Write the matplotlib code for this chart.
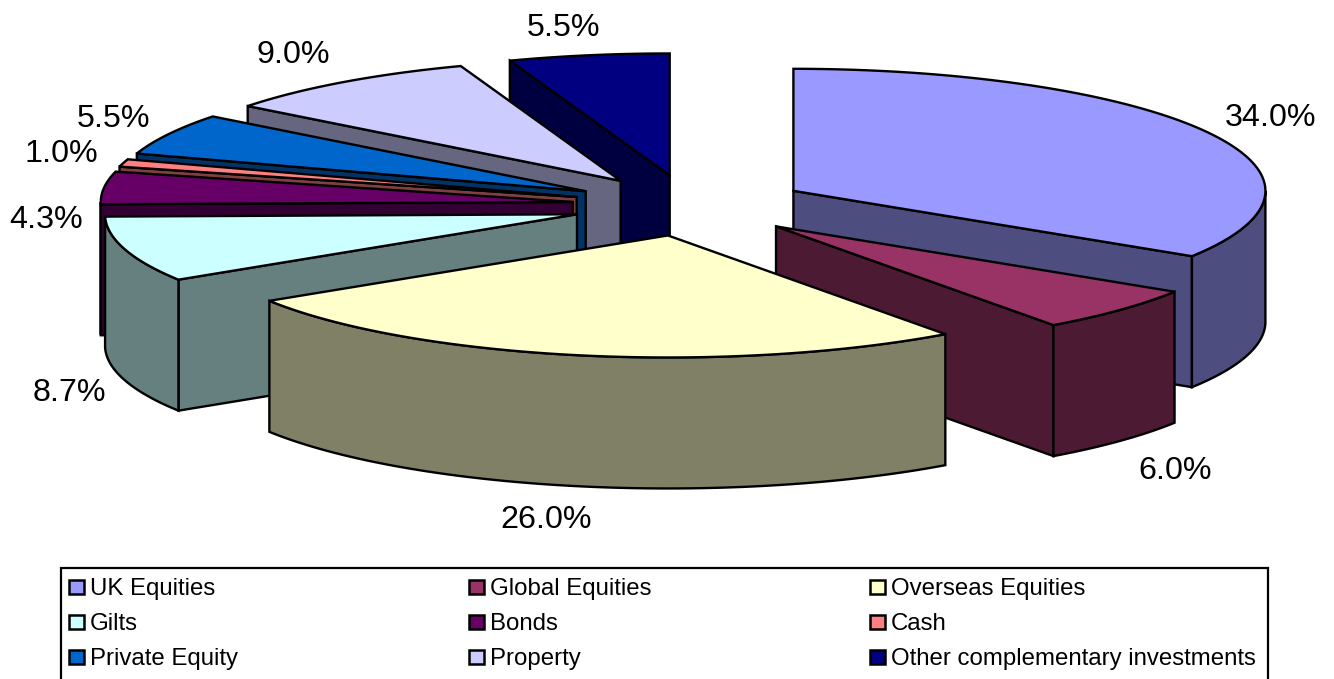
import numpy as np
import matplotlib
matplotlib.use("Agg")
import matplotlib.pyplot as plt
from matplotlib.patches import Polygon, Rectangle

plt.rcParams['font.family'] = ['Liberation Sans', 'DejaVu Sans']

categories = ["UK Equities", "Global Equities", "Overseas Equities", "Gilts", "Bonds",
              "Cash", "Private Equity", "Property", "Other complementary investments"]
values = [34.0, 6.0, 26.0, 8.7, 4.3, 1.0, 5.5, 9.0, 5.5]
top_colors = ["#9999FF", "#993366", "#FFFFCC", "#CCFFFF", "#660066",
              "#FF8080", "#0066CC", "#CCCCFF", "#000080"]
side_colors = ["#4D4D80", "#4D1A33", "#808066", "#668080", "#330033",
               "#804040", "#003366", "#666680", "#000040"]

# geometry of the projected pie, in pixels
CX, CY, RX, RY, DEPTH, EXPLODE = 690.0, 205.5, 472.0, 122.0, 131.0, 0.25
LW = 1.7
label_xy = [(1271, 118), (1175, 471), (546, 520), (69, 393), (46, 220),
            (61, 154), (114, 119), (293, 55), (564, 28)]
draw_order = [8, 7, 6, 5, 4, 3, 0, 1, 2]

W, H = 1334, 679
fig = plt.figure(figsize=(W / 100, H / 100), dpi=100, facecolor="white")
ax = fig.add_axes([0, 0, 1, 1])
ax.set_xlim(0, W)
ax.set_ylim(H, 0)
ax.axis("off")

edges = np.concatenate([[0], np.cumsum(values)]) / sum(values) * 2 * np.pi


def pt(ax_, ay_, t):
    return np.column_stack([ax_ + RX * np.sin(t), ay_ - RY * np.cos(t)])


def poly(xy, fc, z):
    ax.add_patch(Polygon(xy, closed=True, facecolor=fc, edgecolor="black",
                         linewidth=LW, joinstyle="miter", zorder=z))


z = 1
for i in draw_order:
    a0, a1 = edges[i], edges[i + 1]
    mid = (a0 + a1) / 2
    ox = CX + EXPLODE * RX * np.sin(mid)
    oy = CY - EXPLODE * RY * np.cos(mid)
    apex = np.array([[ox, oy]])
    down = np.array([0, DEPTH])

    # cut faces that look towards the viewer
    for ang, visible in ((a0, np.sin(a0) < -1e-6), (a1, np.sin(a1) > 1e-6)):
        if visible:
            e = pt(ox, oy, np.array([ang]))
            poly(np.vstack([apex, e, e + down, apex + down]), side_colors[i], z)
            z += 1

    # outer rim, front half only
    r0, r1 = max(a0, np.pi / 2), min(a1, 3 * np.pi / 2)
    if r1 > r0:
        arc = pt(ox, oy, np.linspace(r0, r1, 200))
        poly(np.vstack([arc, (arc + down)[::-1]]), side_colors[i], z)
        z += 1

    # top face
    arc = pt(ox, oy, np.linspace(a0, a1, 300))
    poly(np.vstack([apex, arc]), top_colors[i], z)
    z += 1

for v, (x, y) in zip(values, label_xy):
    ax.text(x, y, f"{v:.1f}%", fontsize=23.2, ha="center", va="center",
            color="black", zorder=z)

# legend
ax.add_patch(Rectangle((61, 568), 1207, 120, facecolor="white", edgecolor="black",
                       linewidth=1.6, zorder=z, clip_on=True))
col_x = [69, 469, 870]
row_y = [587, 622, 657]
for k, name in enumerate(categories):
    x, y = col_x[k % 3], row_y[k // 3]
    ax.add_patch(Rectangle((x, y - 7), 15, 14, facecolor=top_colors[k], edgecolor="black",
                           linewidth=1.8, zorder=z + 1))
    ax.text(x + 21, y, name, fontsize=17.25, ha="left", va="center_baseline",
            color="black", zorder=z + 1)

fig.savefig("out.png", dpi=100, facecolor="white")
